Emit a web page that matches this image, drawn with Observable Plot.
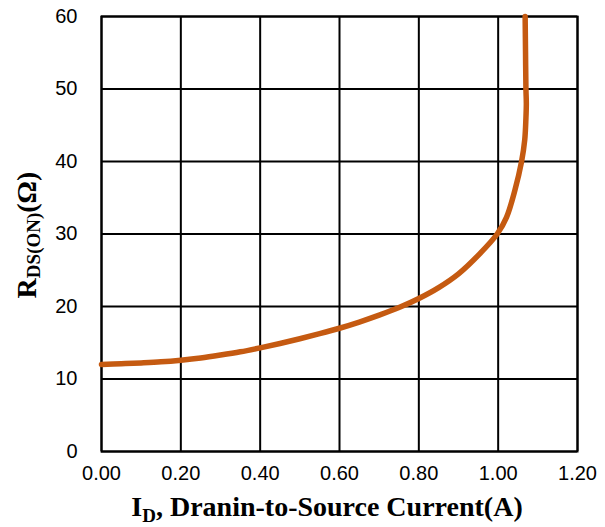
<!DOCTYPE html>
<html>
<head>
<meta charset="utf-8">
<script src="https://cdn.jsdelivr.net/npm/d3@7"></script>
<script src="https://cdn.jsdelivr.net/npm/@observablehq/plot@0.6"></script>
<style>
  html, body { margin: 0; padding: 0; background: #fff; }
  #chart { width: 605px; height: 527px; }
</style>
</head>
<body>
<div id="chart"></div>
<script>
// Drain current I_D (A)
const current = [0, 0.05, 0.1, 0.15, 0.2, 0.25, 0.3, 0.35, 0.4, 0.45, 0.5, 0.55, 0.6, 0.65, 0.7, 0.75, 0.8, 0.85, 0.9, 0.954, 0.9975, 1.021, 1.042, 1.059, 1.067, 1.070, 1.071, 1.070, 1.069, 1.068];
// On-resistance R_DS(ON) (Ohm)
const resistance = [12.0, 12.1, 12.22, 12.37, 12.6, 12.9, 13.3, 13.75, 14.3, 14.9, 15.55, 16.25, 17.0, 17.85, 18.8, 19.85, 21.1, 22.6, 24.5, 27.3, 30.0, 32.3, 36.0, 40.0, 43.0, 46.0, 48.0, 50.0, 55.0, 60.0];
const xTicks = [0, 0.2, 0.4, 0.6, 0.8, 1.0, 1.2];
const yTicks = [0, 10, 20, 30, 40, 50, 60];

const data = current.map((x, i) => ({x, y: resistance[i]}));

const chart = Plot.plot({
  width: 605,
  height: 527,
  marginLeft: 101,
  marginRight: 28,
  marginTop: 16,
  marginBottom: 76,
  style: {fontFamily: "'Liberation Sans', Arial, sans-serif", fontSize: "20px", color: "#000", background: "#fff"},
  x: {domain: [0, 1.2], ticks: xTicks, tickFormat: d3.format(".2f"), tickSize: 0, tickPadding: 14, label: null},
  y: {domain: [0, 60], ticks: yTicks, tickSize: 0, tickPadding: 24, label: null},
  marks: [
    Plot.gridX(xTicks, {stroke: "#000", strokeOpacity: 1, strokeWidth: 2}),
    Plot.gridY(yTicks, {stroke: "#000", strokeOpacity: 1, strokeWidth: 2}),
    Plot.frame({stroke: "#000", strokeWidth: 2}),
    Plot.axisX({ticks: xTicks, tickFormat: d3.format(".2f"), tickSize: 0, tickPadding: 14, fontSize: 20, label: null}),
    Plot.axisY({ticks: yTicks, tickSize: 0, tickPadding: 24, fontSize: 20, label: null}),
    Plot.line(data, {x: "x", y: "y", stroke: "#C55A11", strokeWidth: 5.5, curve: "catmull-rom"})
  ]
});
document.getElementById("chart").appendChild(chart);

const svg = d3.select(chart);
const serif = "'Liberation Serif', 'Times New Roman', serif";
// X axis title
const xt = svg.append("text")
  .attr("x", 327).attr("y", 516)
  .attr("text-anchor", "middle")
  .attr("font-family", serif).attr("font-weight", "bold").attr("font-size", 28).attr("fill", "#000");
xt.append("tspan").text("I");
xt.append("tspan").attr("font-size", 19).attr("dy", 6).text("D");
xt.append("tspan").attr("dy", -6).text(", Dranin-to-Source Current(A)");

// Y axis title
const yt = svg.append("text")
  .attr("transform", "translate(36,235) rotate(-90)")
  .attr("text-anchor", "middle")
  .attr("font-family", serif).attr("font-weight", "bold").attr("font-size", 28).attr("fill", "#000");
yt.append("tspan").text("R");
yt.append("tspan").attr("font-size", 19).attr("dy", 4).text("DS(ON)");
yt.append("tspan").attr("dy", -4).text("(Ω)");
</script>
</body>
</html>
